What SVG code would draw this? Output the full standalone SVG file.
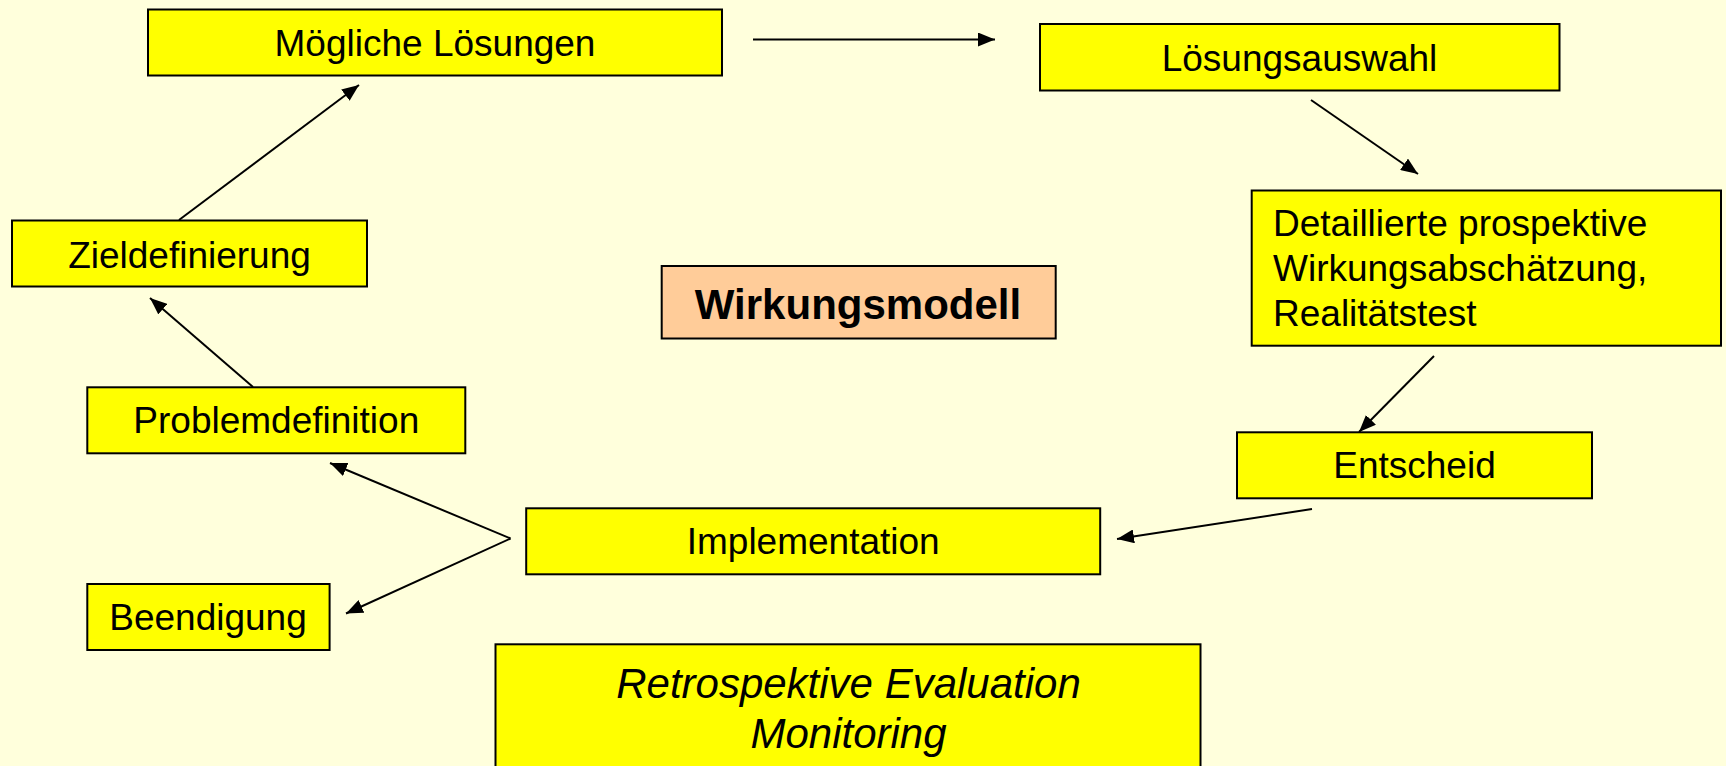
<svg xmlns="http://www.w3.org/2000/svg" width="1726" height="766" viewBox="0 0 1726 766">
<defs>
<marker id="ah" markerUnits="userSpaceOnUse" markerWidth="18" markerHeight="14" refX="17" refY="7" orient="auto">
<path d="M0,0 L17,7 L0,14 z" fill="#000"/>
</marker>
<style>
.box{fill:#FFFF00;stroke:#000;stroke-width:2}
.peach{fill:#FFCC99;stroke:#000;stroke-width:2}
.t{font-family:"Liberation Sans",Arial,sans-serif;font-size:37px;fill:#000}
.c{text-anchor:middle}
.b{font-weight:bold;font-size:42px}
.i{font-style:italic;font-size:42px}
.ln{stroke:#000;stroke-width:2;fill:none}
.ar{marker-end:url(#ah)}
</style>
</defs>
<rect width="1726" height="766" fill="#FFFFDC"/>
<g id="connectors">
<line class="ln ar" x1="179" y1="220" x2="359" y2="85"/>
<line class="ln ar" x1="753" y1="39.5" x2="995" y2="39.5"/>
<line class="ln ar" x1="1311" y1="100" x2="1418" y2="174"/>
<line class="ln ar" x1="1434" y1="356" x2="1359" y2="432"/>
<line class="ln ar" x1="1312" y1="509" x2="1117" y2="539"/>
<line class="ln ar" x1="253" y1="387" x2="150" y2="298"/>
<line class="ln ar" x1="510.5" y1="538.5" x2="330" y2="463"/>
<line class="ln ar" x1="510.5" y1="538.5" x2="346" y2="613.5"/>
</g>
<g id="moegliche">
<rect class="box" x="148" y="9.5" width="574" height="66"/>
<text class="t c" x="435" y="56">Mögliche Lösungen</text>
</g>
<g id="loesungsauswahl">
<rect class="box" x="1040" y="24" width="519.5" height="66.5"/>
<text class="t c" x="1299.5" y="70.5">Lösungsauswahl</text>
</g>
<g id="zieldefinierung">
<rect class="box" x="12" y="220.5" width="355" height="66"/>
<text class="t c" x="189.5" y="267.5">Zieldefinierung</text>
</g>
<g id="wirkungsmodell">
<rect class="peach" x="661.7" y="266" width="394" height="72.5"/>
<text class="t c b" x="858" y="319.3">Wirkungsmodell</text>
</g>
<g id="detaillierte">
<rect class="box" x="1251.7" y="190.5" width="469.3" height="155.2"/>
<text class="t" x="1273" y="236">Detaillierte prospektive</text>
<text class="t" x="1273" y="281">Wirkungsabschätzung,</text>
<text class="t" x="1273" y="326">Realitätstest</text>
</g>
<g id="problemdefinition">
<rect class="box" x="87.3" y="387.3" width="378" height="66"/>
<text class="t c" x="276.3" y="433.3">Problemdefinition</text>
</g>
<g id="entscheid">
<rect class="box" x="1237" y="432.3" width="355" height="66"/>
<text class="t c" x="1414.5" y="478.3">Entscheid</text>
</g>
<g id="implementation">
<rect class="box" x="526.2" y="508.3" width="574" height="66"/>
<text class="t c" x="813.2" y="554">Implementation</text>
</g>
<g id="beendigung">
<rect class="box" x="87.3" y="584" width="242.3" height="66"/>
<text class="t c" x="208" y="630">Beendigung</text>
</g>
<g id="retrospektive">
<rect class="box" x="495.5" y="644.3" width="705" height="140"/>
<text class="t c i" x="848.5" y="698.3">Retrospektive Evaluation</text>
<text class="t c i" x="848.5" y="748.3">Monitoring</text>
</g>
</svg>
